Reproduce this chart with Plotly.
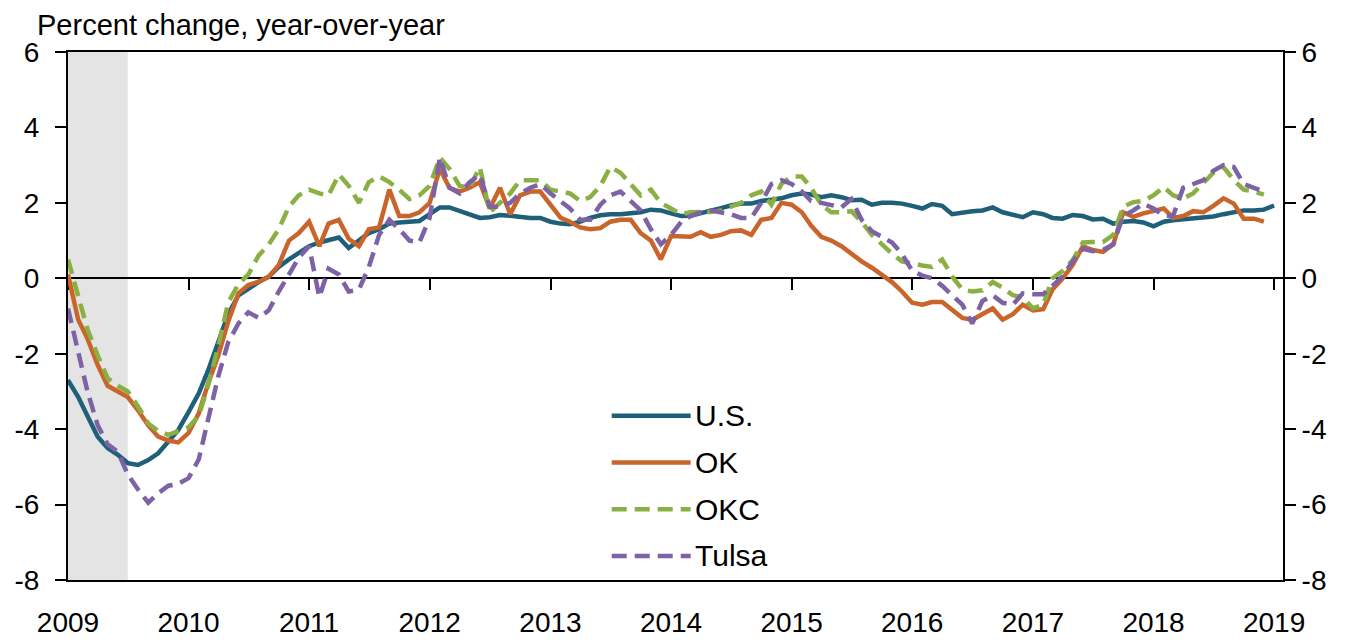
import pandas as pd
import plotly.graph_objects as go

# Nonfarm employment, percent change year-over-year, monthly from Jan 2009
US = [
    -2.7, -3.15, -3.65, -4.2, -4.5, -4.68, -4.9, -4.95, -4.82, -4.64, -4.33, -4.02,
    -3.55, -3.05, -2.45, -1.72, -0.95, -0.45, -0.27, -0.1, 0.04, 0.3, 0.5, 0.68,
    0.85, 0.95, 1.02, 1.08, 0.8, 1.02, 1.2, 1.3, 1.45, 1.48, 1.5, 1.52,
    1.7, 1.88, 1.88, 1.78, 1.68, 1.6, 1.62, 1.68, 1.66, 1.62, 1.6, 1.6,
    1.5, 1.45, 1.43, 1.5, 1.6, 1.67, 1.7, 1.7, 1.72, 1.75, 1.82, 1.8,
    1.72, 1.65, 1.66, 1.72, 1.8, 1.86, 1.93, 1.98, 1.98, 2.05, 2.08, 2.12,
    2.2, 2.25, 2.22, 2.15, 2.2, 2.15, 2.07, 2.08, 1.95, 2.0, 2.0, 1.98,
    1.92, 1.85, 1.97, 1.92, 1.7, 1.75, 1.78, 1.8, 1.88, 1.75, 1.68, 1.62,
    1.75, 1.7, 1.6, 1.58, 1.68, 1.65, 1.56, 1.58, 1.45, 1.5, 1.52, 1.48,
    1.38, 1.5, 1.54, 1.56, 1.6, 1.62, 1.64, 1.7, 1.76, 1.8, 1.8, 1.82,
    1.93,
]
OK = [
    0.1, -1.1, -1.6, -2.3, -2.85, -3.0, -3.15, -3.5, -3.9, -4.2, -4.3, -4.35,
    -4.1, -3.58, -2.8, -2.05, -1.15, -0.4, -0.18, -0.09, 0.04, 0.35, 1.0, 1.2,
    1.5, 0.85, 1.45, 1.55, 1.05, 0.85, 1.3, 1.35, 2.35, 1.65, 1.65, 1.75,
    2.0, 2.9, 2.4, 2.3, 2.4, 2.55, 1.85, 2.4, 1.7, 2.2, 2.3, 2.3,
    1.94, 1.6, 1.5, 1.35, 1.3, 1.33, 1.5, 1.55, 1.55, 1.2, 1.0, 0.5,
    1.12, 1.12, 1.1, 1.22, 1.1, 1.15, 1.25, 1.27, 1.15, 1.55, 1.6, 2.0,
    1.95, 1.75, 1.4, 1.1, 1.0, 0.85, 0.65, 0.45, 0.28, 0.1, -0.1, -0.35,
    -0.65, -0.7, -0.63, -0.63, -0.85, -1.05, -1.1, -0.95, -0.8, -1.1, -0.95, -0.7,
    -0.85, -0.82, -0.3, 0.0, 0.35, 0.85, 0.75, 0.7, 0.9, 1.75, 1.63, 1.72,
    1.8, 1.85, 1.6, 1.65, 1.78, 1.75, 1.92, 2.12, 1.98, 1.58, 1.58, 1.5,
]
OKC = [
    0.5, -0.5, -1.35, -2.05, -2.65, -2.85, -3.0, -3.4, -3.85, -4.05, -4.15, -4.05,
    -3.95, -3.65, -2.85, -1.8, -0.65, -0.15, 0.1, 0.6, 0.9, 1.3, 1.9, 2.2,
    2.35, 2.25, 2.2, 2.75, 2.45, 2.0, 2.55, 2.7, 2.55, 2.35, 2.1, 2.2,
    2.45, 3.2, 2.9, 2.45, 2.4, 2.95, 1.75, 2.0, 2.25, 2.6, 2.6, 2.6,
    2.35, 2.3, 2.25, 2.05, 2.15, 2.45, 2.95, 2.8, 2.5, 2.2, 2.35, 2.0,
    1.85, 1.7, 1.75, 1.75, 1.76, 1.8, 1.9, 2.0, 2.2, 2.3, 1.95, 2.5,
    2.7, 2.7, 2.4, 1.95, 1.75, 1.75, 1.78, 1.5, 1.15, 0.9, 0.65, 0.45,
    0.38, 0.34, 0.3, 0.5, 0.05, -0.3, -0.35, -0.32, -0.1, -0.25, -0.45, -0.5,
    -0.8, -0.7, 0.0, 0.2, 0.48, 0.95, 0.96, 0.96, 1.15, 1.9, 2.02, 2.05,
    2.2, 2.42, 2.2, 2.12, 2.25, 2.55, 2.8, 2.95, 2.6, 2.35, 2.3, 2.22,
]
TULSA = [
    -0.8, -2.0, -3.0, -3.9, -4.4, -4.6, -5.2, -5.6, -5.95, -5.7, -5.5, -5.45,
    -5.3, -4.8, -3.8, -2.6, -1.7, -1.2, -0.9, -1.05, -0.85, -0.35, 0.1, 0.55,
    0.85, -0.5, 0.25, 0.1, -0.35, -0.3, 0.3, 1.15, 1.55, 1.3, 1.0, 0.95,
    1.6, 3.2, 2.4, 2.25, 2.55, 2.75, 1.9, 1.9, 2.0, 2.25, 2.4, 2.5,
    2.25, 2.05, 1.85, 1.55, 1.55, 1.95, 2.2, 2.3, 2.05, 1.8, 1.3, 0.9,
    1.15, 1.5, 1.65, 1.75, 1.8, 1.75, 1.7, 1.6, 1.6, 2.0, 2.5, 2.6,
    2.5, 2.3, 2.05, 2.0, 1.95, 1.88, 2.1, 1.55, 1.25, 1.1, 0.95, 0.65,
    0.2, 0.07, 0.0, -0.2, -0.45, -0.7, -1.2, -0.6, -0.45, -0.65, -0.7, -0.4,
    -0.42, -0.42, -0.2, 0.05, 0.45, 0.78, 0.72, 0.75, 0.9, 1.65, 1.8, 1.98,
    1.85, 1.67, 1.65, 2.4, 2.5, 2.6, 2.85, 3.0, 2.95, 2.5, 2.4, 2.3,
]
RECESSION = ("2009-01-01", "2009-07-01")
YEAR_TICKS = [f"{y}-01-01" for y in range(2009, 2020)]
YEAR_LABELS = [str(y) for y in range(2009, 2020)]
Y_TICKS = [-8, -6, -4, -2, 0, 2, 4, 6]
Y_LABELS = [str(v) for v in Y_TICKS]  # plain hyphen, like the original

FONT = "Liberation Sans, Arial, sans-serif"
DASH = "15px,8px"
SERIES = [
    ("U.S.", US, "#1E5F7A", "solid"),
    ("OK", OK, "#C9652B", "solid"),
    ("OKC", OKC, "#8AB043", DASH),
    ("Tulsa", TULSA, "#7D62A6", DASH),
]

dates = pd.date_range("2009-01-01", periods=len(US), freq="MS")

fig = go.Figure()
for name, values, color, dash in SERIES:
    fig.add_trace(go.Scatter(
        x=dates[:len(values)], y=values, name=name, mode="lines",
        line=dict(color=color, width=4.5, dash=dash), showlegend=False,
    ))

# recession shading
fig.add_vrect(x0=RECESSION[0], x1=RECESSION[1], fillcolor="#E4E4E4", line_width=0, layer="below")

# hand-built legend so the line samples are long like the original
for i, (name, _, color, dash) in enumerate(SERIES):
    yy = 0.311 - i * 0.0885
    fig.add_shape(type="line", xref="paper", yref="paper", x0=0.4475, x1=0.5125, y0=yy, y1=yy,
                  line=dict(color=color, width=4.5, dash=dash))
    fig.add_annotation(text=name, xref="paper", yref="paper", x=0.5145, y=yy, xanchor="left",
                       yanchor="middle", showarrow=False, font=dict(size=30, color="black"))

fig.add_annotation(text="Percent change, year-over-year", xref="paper", yref="paper", x=0, y=1,
                   xshift=-33, yshift=9, xanchor="left", yanchor="bottom", showarrow=False,
                   font=dict(size=29, color="black"))

axis_common = dict(showgrid=False, zeroline=False, linecolor="black", linewidth=2,
                   tickcolor="black", tickwidth=2, automargin=False)
x_range = ["2009-01-01", "2019-01-28"]
# page body adds an 8px margin, so the figure is sized/margined to land the plot at the same pixels
fig.update_layout(
    width=1346, height=634, template="plotly_white",
    margin=dict(l=60, r=71, t=44, b=62),
    paper_bgcolor="white", plot_bgcolor="white",
    font=dict(family=FONT, size=28, color="black"),
    xaxis=dict(**axis_common, type="date", range=x_range, tickvals=YEAR_TICKS, ticktext=YEAR_LABELS,
               showline=True, mirror=True, ticks="", ticklabelstandoff=16),
    xaxis2=dict(**axis_common, type="date", range=x_range, tickvals=YEAR_TICKS, overlaying="x",
                anchor="free", position=8 / 14, showline=True, ticks="outside", ticklen=11,
                showticklabels=False, layer="below traces"),
    yaxis=dict(**axis_common, range=[-8, 6], tickvals=Y_TICKS, ticktext=Y_LABELS, showline=True,
               ticks="outside", ticklen=11, ticklabelstandoff=10),
    yaxis2=dict(**axis_common, range=[-8, 6], tickvals=Y_TICKS, ticktext=Y_LABELS, overlaying="y",
                side="right", showline=True, ticks="outside", ticklen=11, ticklabelstandoff=0),
)
# invisible helper trace so the secondary axes are drawn
fig.add_trace(go.Scatter(x=[dates[0]], y=[0], xaxis="x2", yaxis="y2", mode="lines",
                         showlegend=False, hoverinfo="skip", line=dict(width=0)))

fig.write_html("out.html")
